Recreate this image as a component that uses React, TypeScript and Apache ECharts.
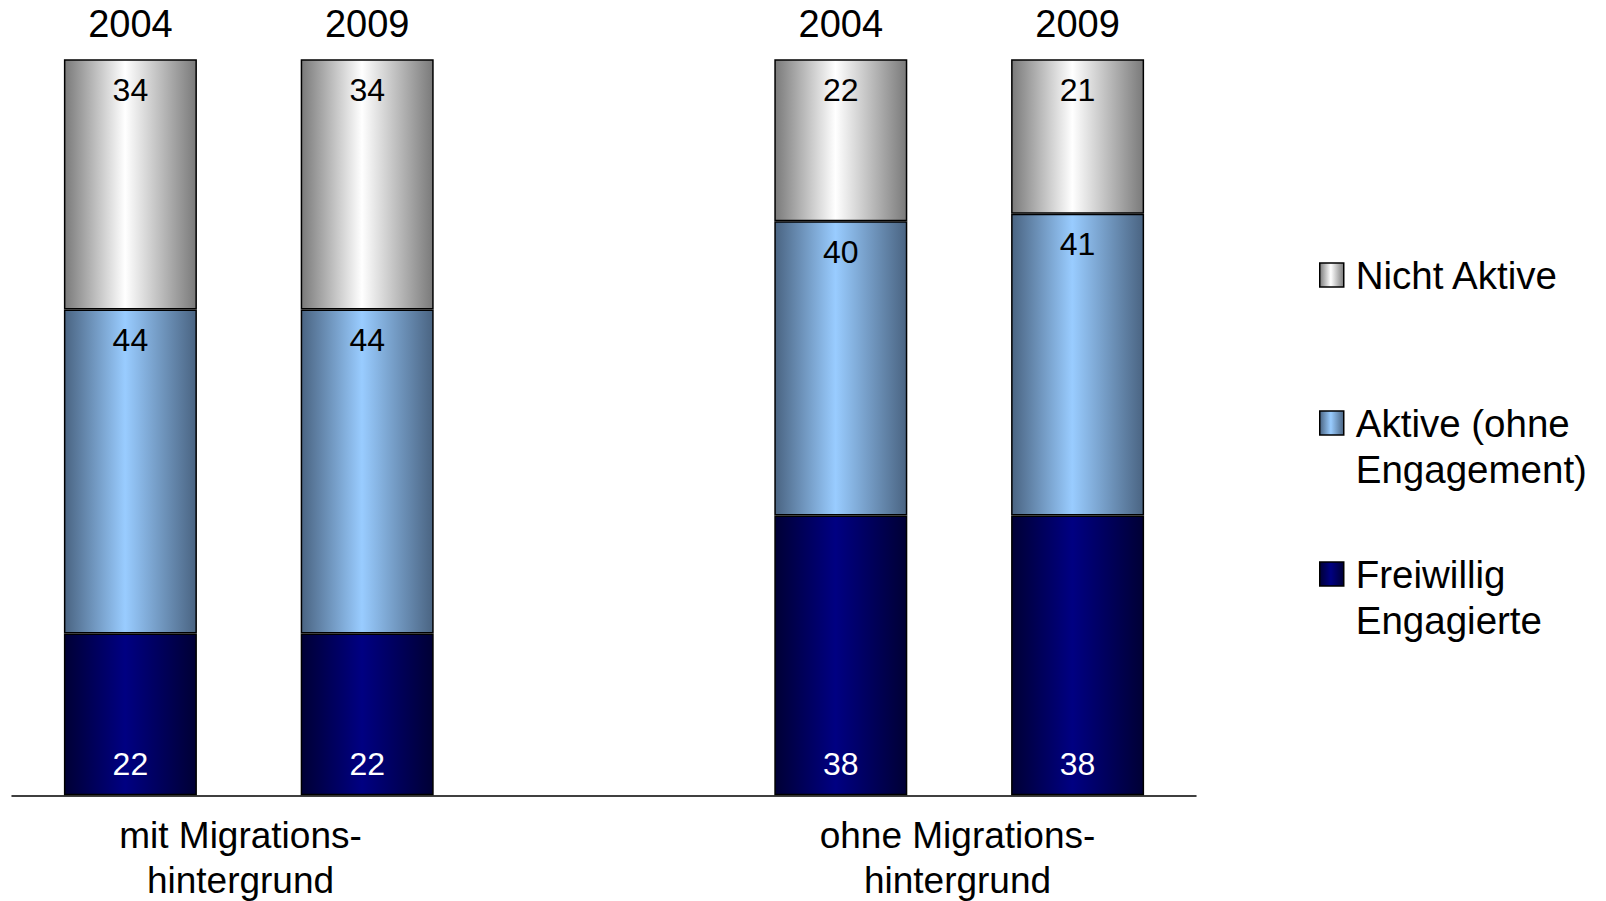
import React, { useEffect, useRef } from "react";
import * as echarts from "echarts";

const categories = ["2004", "2009", "", "2004", "2009"];
const groupLabels = ["mit Migrations-\nhintergrund", "ohne Migrations-\nhintergrund"];
const seriesNames = ["Freiwillig Engagierte", "Aktive (ohne Engagement)", "Nicht Aktive"];
const legendLabels = ["Freiwillig\nEngagierte", "Aktive (ohne\nEngagement)", "Nicht Aktive"];
const freiwillig = [22, 22, null, 38, 38];
const aktive = [44, 44, null, 40, 41];
const nichtAktive = [34, 34, null, 22, 21];

const FONT = "'Liberation Sans', Arial, sans-serif";

function grad(dark: string, light: string) {
  return new echarts.graphic.LinearGradient(0, 0, 1, 0, [
    { offset: 0, color: dark },
    { offset: 0.46, color: light },
    { offset: 1, color: dark },
  ]);
}

export default function App() {
  const ref = useRef<HTMLDivElement>(null);
  useEffect(() => {
    if (!ref.current) return;
    const chart = echarts.init(ref.current, null, { renderer: "svg" });
    const labelBase = { show: true, fontSize: 32, fontFamily: FONT, lineHeight: 32 };
    const legendText = {
      fontSize: 38.5,
      fontFamily: FONT,
      color: "#000",
      lineHeight: 46,
      padding: [0, 0, 0, 7],
    };
    const legendCommon = {
      orient: "vertical",
      left: 1319,
      padding: 0,
      icon: "rect",
      itemWidth: 24,
      itemHeight: 24,
      selectedMode: false,
      itemStyle: { borderColor: "#000", borderWidth: 1.5 },
      textStyle: legendText,
    };
    chart.setOption({
      animation: false,
      backgroundColor: "#fff",
      grid: { left: 12, right: 410, top: 59.3, bottom: 105.7, containLabel: false },
      xAxis: [
        {
          type: "category",
          data: categories,
          position: "bottom",
          axisLine: { show: true, lineStyle: { color: "#000", width: 1.5 } },
          axisTick: { show: false },
          axisLabel: { show: false },
        },
        {
          type: "category",
          data: categories,
          position: "top",
          axisLine: { show: false },
          axisTick: { show: false },
          axisLabel: {
            show: true,
            fontSize: 38,
            fontFamily: FONT,
            color: "#000",
            lineHeight: 38,
            margin: 16,
            interval: 0,
          },
        },
      ],
      yAxis: { type: "value", min: 0, max: 100, show: false },
      legend: [
        {
          ...legendCommon,
          top: 252,
          data: [seriesNames[2]],
          formatter: () => legendLabels[2],
        },
        {
          ...legendCommon,
          top: 354,
          data: [seriesNames[1]],
          formatter: () => "\n" + legendLabels[1],
        },
        {
          ...legendCommon,
          top: 505,
          data: [seriesNames[0]],
          formatter: () => "\n" + legendLabels[0],
        },
      ],
      graphic: [
        {
          type: "text",
          x: 240.5,
          y: 857.5,
          style: {
            text: groupLabels[0],
            fontSize: 37,
            fontFamily: FONT,
            fill: "#000",
            lineHeight: 45,
            align: "center",
            verticalAlign: "middle",
          },
        },
        {
          type: "text",
          x: 957.5,
          y: 857.5,
          style: {
            text: groupLabels[1],
            fontSize: 37,
            fontFamily: FONT,
            fill: "#000",
            lineHeight: 45,
            align: "center",
            verticalAlign: "middle",
          },
        },
      ],
      series: [
        {
          name: seriesNames[0],
          type: "bar",
          stack: "total",
          barWidth: 133,
          data: freiwillig,
          itemStyle: { color: grad("#000035", "#000082"), borderColor: "#000", borderWidth: 1.5 },
          label: { ...labelBase, position: "insideBottom", distance: 15, color: "#fff" },
        },
        {
          name: seriesNames[1],
          type: "bar",
          stack: "total",
          barWidth: 133,
          data: aktive,
          itemStyle: { color: grad("#4a6482", "#99ccff"), borderColor: "#000", borderWidth: 1.5 },
          label: { ...labelBase, position: "insideTop", distance: 14.5, color: "#000" },
        },
        {
          name: seriesNames[2],
          type: "bar",
          stack: "total",
          barWidth: 133,
          data: nichtAktive,
          itemStyle: { color: grad("#7a7a7a", "#ffffff"), borderColor: "#000", borderWidth: 1.5 },
          label: { ...labelBase, position: "insideTop", distance: 14.5, color: "#000" },
        },
      ],
    });
    return () => chart.dispose();
  }, []);
  return (
    <div
      ref={ref}
      style={{ position: "fixed", left: 0, top: 0, width: 1606, height: 901, background: "#fff" }}
    />
  );
}
